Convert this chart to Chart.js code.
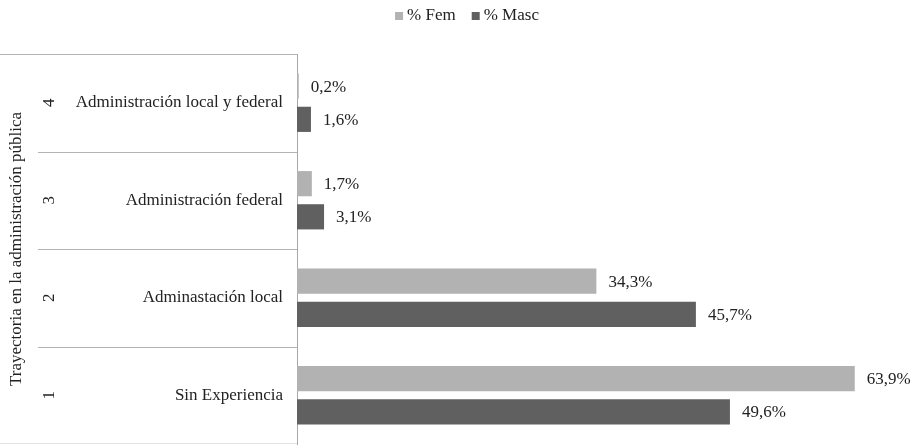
<!DOCTYPE html>
<html>
<head>
<meta charset="utf-8">
<script src="https://cdn.jsdelivr.net/npm/chart.js@4.4.1/dist/chart.umd.min.js"></script>
<style>
  html, body { margin: 0; padding: 0; background: #fff; overflow: hidden; }
  canvas { display: block; }
</style>
</head>
<body>
<canvas id="trayectoria" width="918" height="445"></canvas>
<script>
// trayectoria en la administración pública, por sexo
var codigos = ['4', '3', '2', '1'];
var categorias = ['Administración local y federal', 'Administración federal', 'Adminastación local', 'Sin Experiencia'];
var pctFem = [0.2, 1.7, 34.3, 63.9];
var pctMasc = [1.6, 3.1, 45.7, 49.6];

var serif = "'Liberation Serif', 'Times New Roman', serif";

// compact legend: small squares close to their text
var leyendaPlugin = {
  id: 'leyenda',
  afterDraw: function(chart) {
    var ctx = chart.ctx;
    var sets = chart.data.datasets;
    ctx.save();
    ctx.font = '17px ' + serif;
    ctx.textBaseline = 'middle';
    var caja = 8, sep = 4, entre = 16;
    var total = 0;
    sets.forEach(function(ds, i) {
      total += caja + sep + ctx.measureText(ds.label).width + (i ? entre : 0);
    });
    var x = 467 - total / 2, yc = 16;
    sets.forEach(function(ds) {
      ctx.fillStyle = ds.backgroundColor;
      ctx.fillRect(x, yc - caja / 2, caja, caja);
      x += caja + sep;
      ctx.fillStyle = '#222';
      ctx.fillText(ds.label, x, yc);
      x += ctx.measureText(ds.label).width + entre;
    });
    ctx.restore();
  }
};

// lines of the label table, group codes and bar values
var tablaPlugin = {
  id: 'tabla',
  afterDraw: function(chart) {
    var ctx = chart.ctx;
    var area = chart.chartArea;
    var y = chart.scales.y;
    ctx.save();
    ctx.lineWidth = 1;
    ctx.strokeStyle = '#b4b4b4';
    ctx.beginPath();
    ctx.moveTo(0, area.top + 0.5);
    ctx.lineTo(area.left, area.top + 0.5);
    ctx.stroke();
    var step = (area.bottom - area.top) / categorias.length;
    for (var i = 1; i < categorias.length; i++) {
      var ly = Math.round(area.top + step * i) + 0.5;
      ctx.beginPath();
      ctx.moveTo(38, ly);
      ctx.lineTo(area.left, ly);
      ctx.stroke();
    }
    ctx.strokeStyle = '#e4e4e4';
    ctx.beginPath();
    ctx.moveTo(0, area.bottom - 0.5);
    ctx.lineTo(area.left, area.bottom - 0.5);
    ctx.stroke();

    // group codes, rotated
    ctx.fillStyle = '#222';
    ctx.font = '17px ' + serif;
    ctx.textAlign = 'center';
    ctx.textBaseline = 'middle';
    codigos.forEach(function(c, i) {
      ctx.save();
      ctx.translate(50, y.getPixelForValue(i));
      ctx.rotate(-Math.PI / 2);
      ctx.fillText(c, 0, 0);
      ctx.restore();
    });

    // values at the end of each bar
    ctx.textAlign = 'left';
    chart.data.datasets.forEach(function(ds, di) {
      var meta = chart.getDatasetMeta(di);
      meta.data.forEach(function(bar, i) {
        var txt = ds.data[i].toFixed(1).replace('.', ',') + '%';
        ctx.fillText(txt, bar.x + 12, bar.y + 1);
      });
    });
    ctx.restore();
  }
};

new Chart(document.getElementById('trayectoria'), {
  type: 'bar',
  data: {
    labels: categorias,
    datasets: [
      { label: '% Fem', data: pctFem, backgroundColor: '#b2b2b2' },
      { label: '% Masc', data: pctMasc, backgroundColor: '#606060' }
    ]
  },
  options: {
    indexAxis: 'y',
    responsive: false,
    animation: false,
    layout: { padding: { top: 54, right: 10, bottom: 1, left: 0 } },
    datasets: {
      bar: { categoryPercentage: 0.68, barPercentage: 0.76 }
    },
    plugins: {
      legend: { display: false },
      tooltip: { enabled: false }
    },
    scales: {
      x: {
        display: false,
        min: 0,
        max: 70
      },
      y: {
        grid: { display: false },
        border: { display: true, color: '#a8a8a8' },
        ticks: {
          font: { family: serif, size: 17 },
          color: '#222',
          padding: 6
        },
        title: {
          display: true,
          text: 'Trayectoria en la administración pública',
          font: { family: serif, size: 17 },
          color: '#222',
          padding: { top: 6, bottom: 2 }
        },
        afterFit: function(scale) {
          scale.width = 297;
          // the category bands run right up to the table borders
          scale.paddingTop = 0;
          scale.paddingBottom = 0;
        }
      }
    }
  },
  plugins: [tablaPlugin, leyendaPlugin]
});
</script>
</body>
</html>
